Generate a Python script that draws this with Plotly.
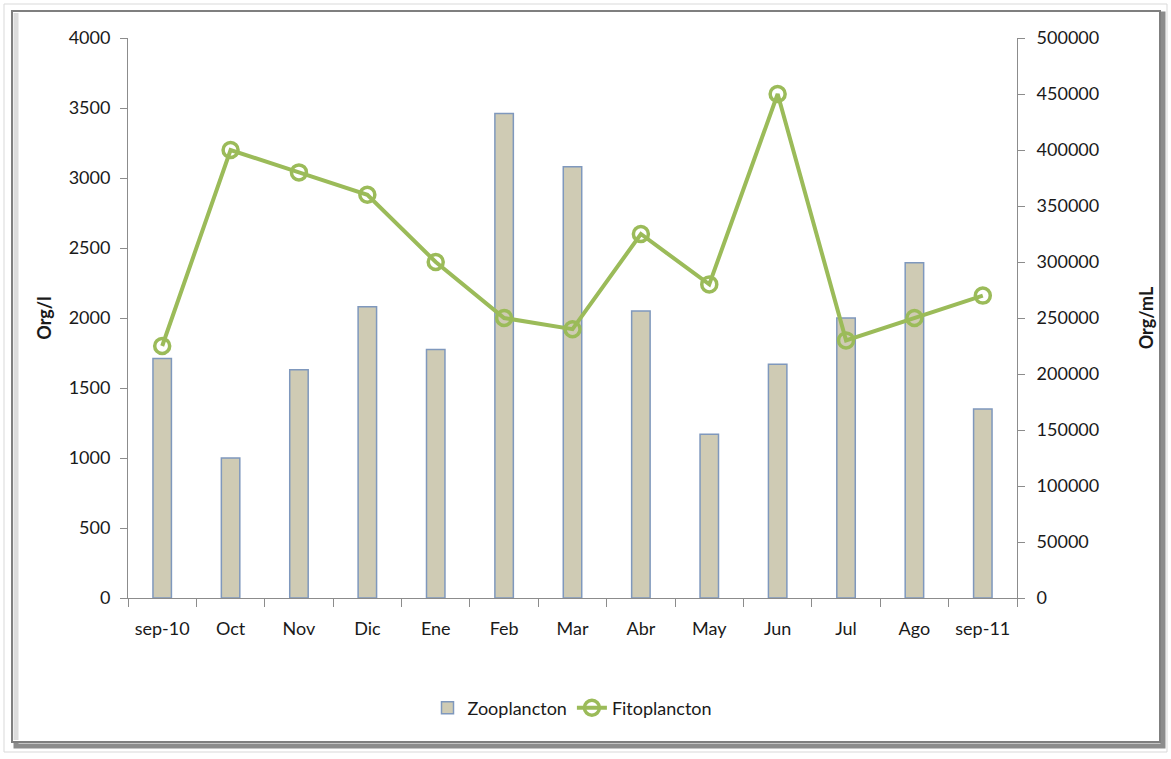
import plotly.graph_objects as go

months = ["sep-10", "Oct", "Nov", "Dic", "Ene", "Feb", "Mar", "Abr", "May", "Jun", "Jul", "Ago", "sep-11"]
zooplancton = [1710, 1000, 1630, 2080, 1775, 3460, 3080, 2050, 1170, 1670, 2000, 2395, 1350]
fitoplancton = [225000, 400000, 380000, 360000, 300000, 250000, 240000, 325000, 280000, 450000, 230000, 250000, 270000]

W, H = 1171, 759
L, R, T, B = 128, 1017, 38, 598
FONT = "Lato, 'Open Sans', sans-serif"

fig = go.Figure()
fig.add_trace(go.Bar(
    x=months, y=zooplancton, name="Zooplancton",
    marker=dict(color="#cfcbb4", line=dict(color="#7f98bd", width=1.5)),
    width=0.27, yaxis="y",
))
fig.add_trace(go.Scatter(
    x=months, y=fitoplancton, name="Fitoplancton", mode="lines+markers",
    line=dict(color="#9bbb59", width=4),
    marker=dict(symbol="circle-open", size=15, color="#9bbb59", line=dict(width=3.5, color="#9bbb59")),
    yaxis="y2",
))

def px_x(v):
    return (v - L) / (R - L)

def px_y(v):
    return (B - v) / (B - T)

shapes = [
    dict(type="rect", xref="paper", yref="paper", x0=px_x(4), x1=px_x(1167), y0=px_y(752), y1=px_y(4),
         line=dict(color="#d9d9d9", width=1), layer="below"),
    dict(type="rect", xref="paper", yref="paper", x0=px_x(16), x1=px_x(1163), y0=px_y(746), y1=px_y(14),
         line=dict(color="#8c8c8c", width=5), layer="below"),
    dict(type="rect", xref="paper", yref="paper", x0=px_x(12), x1=px_x(1160), y0=px_y(742), y1=px_y(11),
         fillcolor="white", line=dict(color="#7f7f7f", width=2), layer="below"),
    dict(type="line", xref="paper", yref="paper", x0=px_x(16), x1=px_x(16), y0=px_y(740), y1=px_y(13),
         line=dict(color="#dcdcdc", width=5), layer="below"),
]

fig.update_layout(
    width=W, height=H,
    margin=dict(l=L, r=W - R, t=T, b=H - B, autoexpand=False),
    paper_bgcolor="white", plot_bgcolor="white",
    font=dict(family=FONT, size=17, color="#1a1a1a"),
    showlegend=True,
    legend=dict(orientation="h", x=0.5, xanchor="center", y=px_y(708), yanchor="middle",
                font=dict(size=18), traceorder="normal"),
    xaxis=dict(
        type="category", showline=True, linecolor="#8c8c8c", linewidth=1,
        ticks="outside", ticklen=8, tickcolor="#8c8c8c", tickson="boundaries",
        showgrid=False, tickfont=dict(size=18), range=[-0.5, 12.5], ticklabelstandoff=14,
    ),
    yaxis=dict(
        range=[0, 4000], dtick=500, showline=True, linecolor="#8c8c8c", linewidth=1,
        ticks="outside", ticklen=7, tickcolor="#8c8c8c", showgrid=False, zeroline=False,
        tickfont=dict(size=18), ticklabelstandoff=6,
        title=dict(text="<b>Org/l</b>", font=dict(size=18), standoff=12),
    ),
    yaxis2=dict(
        range=[0, 500000], dtick=50000, overlaying="y", side="right",
        showline=True, linecolor="#8c8c8c", linewidth=1, tickformat="d",
        ticks="outside", ticklen=7, tickcolor="#8c8c8c", showgrid=False, zeroline=False,
        tickfont=dict(size=18), ticklabelstandoff=8,
        title=dict(text="<b>Org/mL</b>", font=dict(size=18), standoff=42),
    ),
    shapes=shapes,
)

fig.write_html("out.html", config={"displayModeBar": False},
               post_script="document.body.style.margin='0';document.body.style.overflow='hidden';")
